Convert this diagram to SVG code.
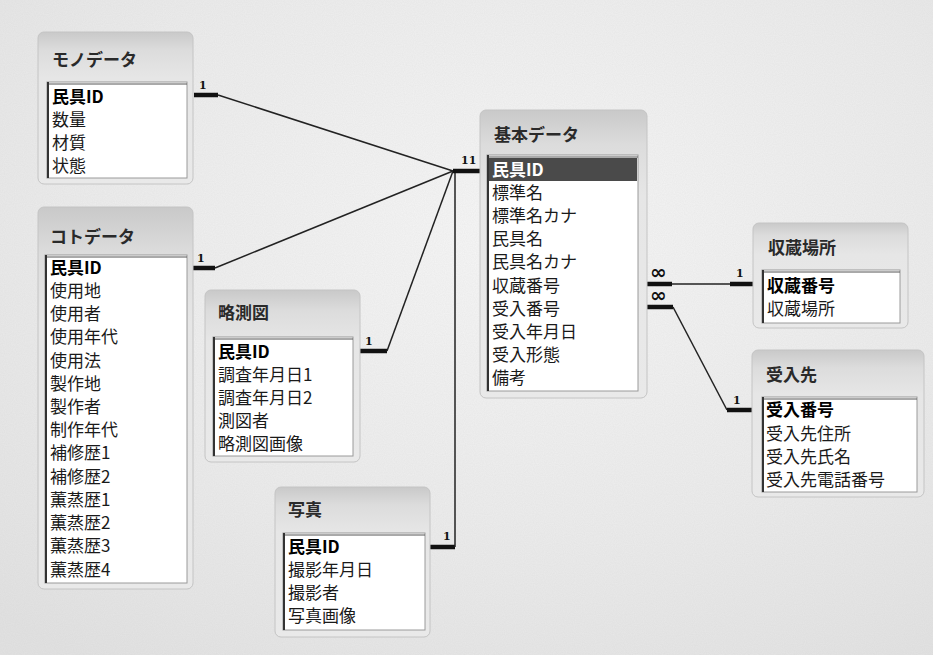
<svg xmlns="http://www.w3.org/2000/svg" width="933" height="655" viewBox="0 0 933 655">
<defs>
  <radialGradient id="bg" cx="0.55" cy="0.35" r="0.8">
    <stop offset="0" stop-color="#f7f7f7"/>
    <stop offset="0.6" stop-color="#ececec"/>
    <stop offset="1" stop-color="#e2e2e2"/>
  </radialGradient>
  <linearGradient id="tbl" x1="0" y1="0" x2="0" y2="1">
    <stop offset="0" stop-color="#c9c9c9"/>
    <stop offset="0.12" stop-color="#dcdcdc"/>
    <stop offset="0.3" stop-color="#e6e6e6"/>
    <stop offset="1" stop-color="#e9e9e9"/>
  </linearGradient>
  <filter id="noise" x="0" y="0" width="100%" height="100%">
    <feTurbulence type="fractalNoise" baseFrequency="0.9" numOctaves="1" seed="3" result="n"/>
    <feColorMatrix type="matrix" values="0 0 0 0 0.5  0 0 0 0 0.5  0 0 0 0 0.5  0 0 0 0.18 0" in="n"/>
  </filter>
</defs>
<style>
  .outer { fill: url(#tbl); stroke: #c4c4c4; stroke-width: 1; }
  .fields { fill: #ffffff; stroke: #9a9a9a; stroke-width: 1; }
  .ftop { stroke: #555; stroke-width: 1; fill: none; }
  .fleft { stroke: #333; stroke-width: 2; fill: none; }
  .title { font-family: "Noto Sans CJK JP", "Liberation Sans", sans-serif; font-size: 17px; font-weight: bold; fill: #2a2a2a; }
  .fld { font-family: "Noto Sans CJK JP", "Liberation Sans", sans-serif; font-size: 17px; fill: #1a1a1a; }
  .key { font-weight: bold; fill: #000; }
  .hl { fill: #4a4a4a; }
  .hltext { fill: #ffffff; font-weight: bold; }
  .ln { stroke: #222; stroke-width: 1.5; fill: none; }
  .bar { stroke: #111; stroke-width: 4.5; fill: none; }
  .card { font-family: "DejaVu Serif", "Liberation Serif", serif; font-size: 11px; font-weight: bold; fill: #111; }
  .many { font-family: "DejaVu Sans", sans-serif; font-size: 20px; font-weight: bold; fill: #111; }
</style>
<rect x="0" y="0" width="933" height="655" fill="url(#bg)"/>
<rect x="0" y="0" width="933" height="655" filter="url(#noise)"/>

<g id="connectors">
  <line class="bar" x1="194" y1="95" x2="218" y2="95"/>
  <line class="ln" x1="218" y1="95" x2="453" y2="171"/>
  <text class="card" x="199" y="89">1</text>

  <line class="bar" x1="192" y1="268" x2="215" y2="268"/>
  <line class="ln" x1="215" y1="268" x2="453" y2="171"/>
  <text class="card" x="197" y="262">1</text>

  <line class="bar" x1="360" y1="351" x2="387" y2="351"/>
  <line class="ln" x1="387" y1="351" x2="453" y2="171"/>
  <text class="card" x="365" y="345">1</text>

  <line class="bar" x1="430" y1="547" x2="455" y2="547"/>
  <line class="ln" x1="455" y1="547" x2="455" y2="171"/>
  <text class="card" x="443" y="540">1</text>

  <line class="bar" x1="453" y1="171" x2="480" y2="171"/>
  <text class="card" x="461" y="164">11</text>

  <line class="bar" x1="647" y1="284" x2="672" y2="284"/>
  <line class="ln" x1="672" y1="284" x2="730" y2="284"/>
  <line class="bar" x1="730" y1="284" x2="753" y2="284"/>
  <text class="many" x="650" y="279">∞</text>
  <text class="card" x="736" y="277">1</text>

  <line class="bar" x1="647" y1="307" x2="673" y2="307"/>
  <line class="ln" x1="673" y1="307" x2="727" y2="410"/>
  <line class="bar" x1="727" y1="410" x2="752" y2="410"/>
  <text class="many" x="650" y="302">∞</text>
  <text class="card" x="733" y="404">1</text>
</g>

<g id="mono">
  <rect class="outer" x="38" y="32" width="155" height="152" rx="6"/>
  <text class="title" x="52" y="66">モノデータ</text>
  <rect class="fields" x="47" y="82" width="140" height="96"/>
  <line class="ftop" x1="47" y1="84" x2="187" y2="84"/>
  <line class="fleft" x1="48" y1="82" x2="48" y2="178"/>
  <text class="fld key" x="52" y="103">民具ID</text>
  <text class="fld" x="52" y="126">数量</text>
  <text class="fld" x="52" y="149">材質</text>
  <text class="fld" x="52" y="172">状態</text>
</g>

<g id="koto">
  <rect class="outer" x="38" y="207" width="155" height="382" rx="6"/>
  <text class="title" x="50" y="243">コトデータ</text>
  <rect class="fields" x="45" y="255" width="142" height="328"/>
  <line class="ftop" x1="45" y1="257" x2="187" y2="257"/>
  <line class="fleft" x1="46" y1="255" x2="46" y2="583"/>
  <text class="fld key" x="50" y="274">民具ID</text>
  <text class="fld" x="50" y="297">使用地</text>
  <text class="fld" x="50" y="320">使用者</text>
  <text class="fld" x="50" y="343">使用年代</text>
  <text class="fld" x="50" y="367">使用法</text>
  <text class="fld" x="50" y="390">製作地</text>
  <text class="fld" x="50" y="413">製作者</text>
  <text class="fld" x="50" y="436">制作年代</text>
  <text class="fld" x="50" y="459">補修歴1</text>
  <text class="fld" x="50" y="483">補修歴2</text>
  <text class="fld" x="50" y="506">薫蒸歴1</text>
  <text class="fld" x="50" y="529">薫蒸歴2</text>
  <text class="fld" x="50" y="552">薫蒸歴3</text>
  <text class="fld" x="50" y="576">薫蒸歴4</text>
</g>

<g id="ryakusokuzu">
  <rect class="outer" x="205" y="290" width="155" height="172" rx="6"/>
  <text class="title" x="218" y="319">略測図</text>
  <rect class="fields" x="213" y="337" width="140" height="119"/>
  <line class="ftop" x1="213" y1="339" x2="353" y2="339"/>
  <line class="fleft" x1="214" y1="337" x2="214" y2="456"/>
  <text class="fld key" x="218" y="358">民具ID</text>
  <text class="fld" x="218" y="381">調査年月日1</text>
  <text class="fld" x="218" y="404">調査年月日2</text>
  <text class="fld" x="218" y="427">測図者</text>
  <text class="fld" x="218" y="450">略測図画像</text>
</g>

<g id="shashin">
  <rect class="outer" x="275" y="487" width="155" height="150" rx="6"/>
  <text class="title" x="288" y="516">写真</text>
  <rect class="fields" x="283" y="533" width="142" height="97"/>
  <line class="ftop" x1="283" y1="535" x2="425" y2="535"/>
  <line class="fleft" x1="284" y1="533" x2="284" y2="630"/>
  <text class="fld key" x="288" y="553">民具ID</text>
  <text class="fld" x="288" y="576">撮影年月日</text>
  <text class="fld" x="288" y="599">撮影者</text>
  <text class="fld" x="288" y="622">写真画像</text>
</g>

<g id="kihon">
  <rect class="outer" x="480" y="110" width="167" height="288" rx="6"/>
  <text class="title" x="494" y="141">基本データ</text>
  <rect class="fields" x="487" y="155" width="151" height="236"/>
  <line class="ftop" x1="487" y1="157" x2="638" y2="157"/>
  <rect class="hl" x="489" y="158" width="148" height="23"/>
  <line class="fleft" x1="488" y1="155" x2="488" y2="391"/>
  <text class="fld hltext" x="492" y="176">民具ID</text>
  <text class="fld" x="492" y="199">標準名</text>
  <text class="fld" x="492" y="222">標準名カナ</text>
  <text class="fld" x="492" y="245">民具名</text>
  <text class="fld" x="492" y="268">民具名カナ</text>
  <text class="fld" x="492" y="292">収蔵番号</text>
  <text class="fld" x="492" y="315">受入番号</text>
  <text class="fld" x="492" y="338">受入年月日</text>
  <text class="fld" x="492" y="361">受入形態</text>
  <text class="fld" x="492" y="384">備考</text>
</g>

<g id="shuzo">
  <rect class="outer" x="753" y="223" width="155" height="105" rx="6"/>
  <text class="title" x="768" y="254">収蔵場所</text>
  <rect class="fields" x="762" y="270" width="138" height="53"/>
  <line class="ftop" x1="762" y1="272" x2="900" y2="272"/>
  <line class="fleft" x1="763" y1="270" x2="763" y2="323"/>
  <text class="fld key" x="767" y="292">収蔵番号</text>
  <text class="fld" x="767" y="315">収蔵場所</text>
</g>

<g id="ukeire">
  <rect class="outer" x="752" y="350" width="172" height="147" rx="6"/>
  <text class="title" x="766" y="381">受入先</text>
  <rect class="fields" x="762" y="397" width="155" height="95"/>
  <line class="ftop" x1="762" y1="399" x2="917" y2="399"/>
  <line class="fleft" x1="763" y1="397" x2="763" y2="492"/>
  <text class="fld key" x="766" y="416">受入番号</text>
  <text class="fld" x="766" y="440">受入先住所</text>
  <text class="fld" x="766" y="463">受入先氏名</text>
  <text class="fld" x="766" y="486">受入先電話番号</text>
</g>
</svg>
